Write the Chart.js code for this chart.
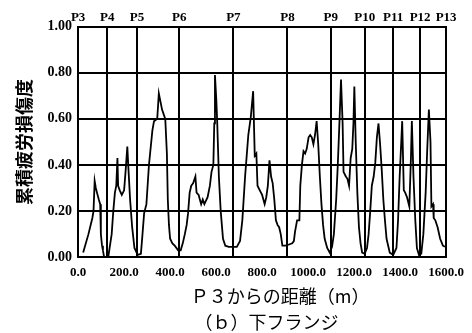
<!DOCTYPE html>
<html>
<head>
<meta charset="utf-8">
<script src="https://cdn.jsdelivr.net/npm/chart.js@4/dist/chart.umd.min.js"></script>
<style>
  body { margin: 0; background: #fff; }
  #wrap { width: 472px; height: 333px; }
</style>
</head>
<body>
<div id="wrap"><canvas id="myChart" width="472" height="333"></canvas></div>
<script>
// distance from P3 (m) and cumulative fatigue damage
var distance = [22, 45, 62, 67, 72, 77, 82, 90, 96, 99, 104, 108, 113, 120, 131, 137, 146, 153, 160, 166,
  171, 174, 181, 190, 200, 207, 214, 219, 226, 235, 245, 259, 273, 280, 287, 297, 308, 323, 330, 344,
  351, 365, 379, 386, 390, 395, 400, 410, 420, 435, 446, 455, 464, 472, 478, 485, 492, 500, 510, 515,
  524, 535, 542, 549, 563, 573, 580, 588, 592, 595, 601, 605, 612, 620, 630, 640, 655, 675, 690, 704,
  714, 726, 740, 751, 761, 768, 775, 780, 790, 800, 811, 818, 825, 832, 839, 846, 853, 860, 867, 874,
  881, 888, 902, 917, 931, 938, 943, 952, 962, 966, 973, 980, 987, 994, 1002, 1009, 1016, 1023, 1030, 1037,
  1044, 1051, 1058, 1065, 1072, 1083, 1094, 1104, 1112, 1122, 1129, 1136, 1143, 1150, 1154, 1164, 1171, 1178, 1185, 1192,
  1197, 1201, 1207, 1214, 1221, 1228, 1235, 1246, 1256, 1263, 1270, 1277, 1285, 1292, 1299, 1306, 1313, 1320, 1327, 1334,
  1341, 1355, 1370, 1384, 1391, 1398, 1405, 1409, 1416, 1422, 1430, 1440, 1447, 1451, 1458, 1466, 1473, 1482, 1492, 1501,
  1511, 1518, 1525, 1532, 1536, 1543, 1546, 1553, 1563, 1574, 1586, 1595];
var damage = [0.02, 0.10, 0.17, 0.20, 0.33, 0.30, 0.28, 0.25, 0.23, 0.10, 0.05, 0.03, 0.0, 0.0, 0.0, 0.04, 0.10, 0.20, 0.28, 0.31,
  0.43, 0.31, 0.29, 0.27, 0.29, 0.38, 0.48, 0.38, 0.25, 0.13, 0.04, 0.01, 0.015, 0.10, 0.19, 0.23, 0.40, 0.55, 0.59, 0.60,
  0.71, 0.64, 0.60, 0.45, 0.25, 0.14, 0.08, 0.06, 0.05, 0.03, 0.03, 0.06, 0.10, 0.14, 0.19, 0.28, 0.31, 0.32, 0.35, 0.28,
  0.27, 0.23, 0.25, 0.23, 0.26, 0.31, 0.37, 0.40, 0.58, 0.79, 0.68, 0.58, 0.35, 0.20, 0.08, 0.05, 0.045, 0.045, 0.045, 0.07,
  0.16, 0.35, 0.53, 0.61, 0.72, 0.44, 0.45, 0.31, 0.29, 0.27, 0.23, 0.26, 0.31, 0.42, 0.35, 0.32, 0.25, 0.16, 0.14, 0.13,
  0.10, 0.05, 0.05, 0.055, 0.06, 0.07, 0.11, 0.16, 0.16, 0.31, 0.40, 0.46, 0.45, 0.47, 0.52, 0.53, 0.52, 0.49, 0.53, 0.59,
  0.49, 0.35, 0.23, 0.14, 0.08, 0.04, 0.02, 0.045, 0.10, 0.25, 0.40, 0.58, 0.77, 0.58, 0.37, 0.35, 0.34, 0.31, 0.43, 0.47,
  0.58, 0.74, 0.50, 0.28, 0.13, 0.06, 0.02, 0.015, 0.04, 0.10, 0.20, 0.31, 0.35, 0.41, 0.52, 0.58, 0.49, 0.38, 0.25, 0.16,
  0.08, 0.02, 0.01, 0.04, 0.16, 0.35, 0.50, 0.59, 0.29, 0.28, 0.26, 0.22, 0.43, 0.59, 0.35, 0.16, 0.04, 0.01, 0.015, 0.10,
  0.28, 0.47, 0.64, 0.50, 0.22, 0.23, 0.17, 0.16, 0.13, 0.08, 0.05, 0.045];

// pier names and their positions along the girder
var pierNames = ["P3", "P4", "P5", "P6", "P7", "P8", "P9", "P10", "P11", "P12", "P13"];
var pierPos = [0, 127, 256, 440, 675, 910, 1098, 1246, 1370, 1487, 1600];

var yTicks = [0, 0.2, 0.4, 0.6, 0.8, 1.0];

var points = [];
for (let i = 0; i < distance.length; i++) {
  points.push({ x: distance[i], y: damage[i] });
}

var serif = "'Liberation Serif', serif";
var jp = "'Noto Sans CJK JP', sans-serif";

var ctx = document.getElementById("myChart").getContext('2d');
var myChart = new Chart(ctx, {
  type: 'line',
  data: {
    datasets: [{
      data: points,
      borderColor: '#000',
      borderWidth: 1.8,
      pointRadius: 0,
      tension: 0,
      fill: false,
      xAxisID: 'x',
      yAxisID: 'y'
    }]
  },
  options: {
    responsive: false,
    animation: false,
    layout: { padding: { top: 9, left: 13, right: 16, bottom: 0 } },
    plugins: {
      legend: { display: false },
      tooltip: { enabled: false }
    },
    scales: {
      x: {
        type: 'linear',
        position: 'bottom',
        min: 0,
        max: 1600,
        grid: { display: false, drawTicks: false },
        border: { display: true, color: '#000', width: 2 },
        ticks: {
          stepSize: 200,
          padding: 8,
          maxRotation: 0,
          color: '#000',
          font: { family: serif, size: 13, weight: 'bold' },
          callback: function(v) { return v.toFixed(1); }
        },
        title: {
          display: true,
          text: ['\u3000\u3000Ｐ３からの距離（m）', '\u3000（ｂ）下フランジ'],
          color: '#000',
          font: { family: jp, size: 18, lineHeight: 1.45 },
          padding: { top: -6, bottom: -2 }
        }
      },
      x2: {
        type: 'linear',
        position: 'top',
        min: 0,
        max: 1600,
        afterBuildTicks: function(axis) {
          axis.ticks = pierPos.map(function(v) { return { value: v }; });
        },
        grid: { color: '#000', lineWidth: 2, drawTicks: false },
        border: { display: true, color: '#000', width: 2 },
        ticks: {
          autoSkip: false,
          maxRotation: 0,
          padding: 1,
          color: '#000',
          font: { family: serif, size: 13, weight: 'bold' },
          callback: function(v, i) { return pierNames[i]; }
        }
      },
      y: {
        min: 0,
        max: 1,
        afterBuildTicks: function(axis) {
          axis.ticks = yTicks.map(function(v) { return { value: v }; });
        },
        grid: { color: '#000', lineWidth: 2, drawTicks: false },
        border: { display: true, color: '#000', width: 2 },
        ticks: {
          padding: 6,
          color: '#000',
          font: { family: serif, size: 14, weight: 'bold' },
          callback: function(v) { return v.toFixed(2); }
        },
        title: {
          display: true,
          text: '累積疲労損傷度',
          color: '#000',
          font: { family: jp, size: 18, weight: 'bold' },
          padding: { top: 0, bottom: 7 }
        }
      }
    }
  }
});
</script>
</body>
</html>
